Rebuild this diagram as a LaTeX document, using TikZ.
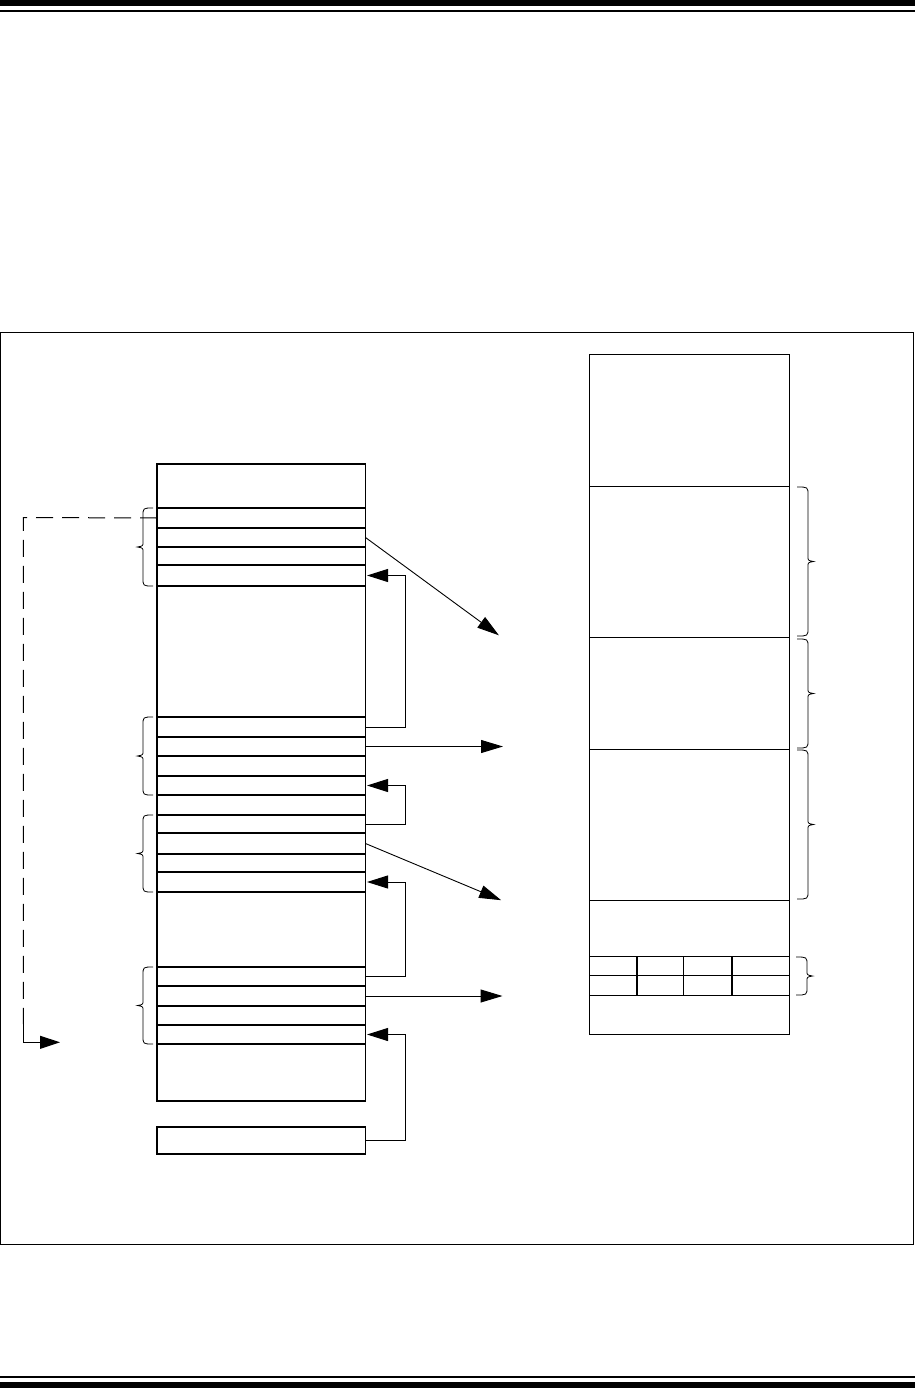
\documentclass[tikz,border=0pt]{standalone}
\usetikzlibrary{arrows.meta}
\tikzset{
  box/.style={draw, line width=1.1pt, inner sep=0pt, outer sep=0pt, anchor=north west, minimum width=208.5pt},
  rbox/.style={draw, line width=1.1pt, inner sep=0pt, outer sep=0pt, anchor=north west, minimum width=200.4pt},
  cellbox/.style={draw, line width=1.1pt, inner sep=0pt, outer sep=0pt, anchor=north west},
  conn/.style={line width=1pt, -{Triangle[length=22pt,width=13pt]}, shorten >=-0.5pt},
  loopconn/.style={line width=1pt, -{Triangle[length=21pt,width=13pt]}, shorten >=1.5pt},
  dashconn/.style={line width=1pt, dash pattern=on 17pt off 9pt},
  brc/.style={line width=0.8pt},
}
\newcommand\myBraceL[3]{%
  \draw[brc] (#1,#2) .. controls (#1-10,#2) .. (#1-10,#2+8) -- (#1-10,{(#2+#3)/2-5})
    .. controls (#1-10,{(#2+#3)/2-1}) .. (#1-15.5,{(#2+#3)/2})
    .. controls (#1-10,{(#2+#3)/2+1}) .. (#1-10,{(#2+#3)/2+5})
    -- (#1-10,#3-8) .. controls (#1-10,#3) .. (#1,#3);}
\newcommand\myBraceR[3]{%
  \draw[brc] (#1,#2) .. controls (#1+11,#2) .. (#1+11,#2+8) -- (#1+11,{(#2+#3)/2-5})
    .. controls (#1+11,{(#2+#3)/2-1}) .. (#1+16.5,{(#2+#3)/2})
    .. controls (#1+11,{(#2+#3)/2+1}) .. (#1+11,{(#2+#3)/2+5})
    -- (#1+11,#3-8) .. controls (#1+11,#3) .. (#1,#3);}
\begin{document}
\begin{tikzpicture}[x=1pt,y=-1pt]
\useasboundingbox (0,0) rectangle (915,1388);
% page rules
\fill (0,0) rectangle (915,6);
\fill (0,9.7) rectangle (915,12);
\fill (0,1375.7) rectangle (915,1377.8);
\fill (0,1382) rectangle (915,1388);
% frame
\draw[line width=1pt] (0.6,332.5) rectangle (913.4,1244.4);

% left stack
\node[box, minimum height=44pt]   (r1)  at (157,464) {};
\node[box, minimum height=20pt]   (r2)  at (157,508) {};
\node[box, minimum height=19pt]   (r3)  at (157,528) {};
\node[box, minimum height=18pt]   (r4)  at (157,547) {};
\node[box, minimum height=21pt]   (r5)  at (157,565) {};
\node[box, minimum height=131pt]  (r6)  at (157,586) {};
\node[box, minimum height=20pt]   (r7)  at (157,717) {};
\node[box, minimum height=19pt]   (r8)  at (157,737) {};
\node[box, minimum height=20pt]   (r9)  at (157,756) {};
\node[box, minimum height=19pt]   (r10) at (157,776) {};
\node[box, minimum height=20pt]   (r11) at (157,795) {};
\node[box, minimum height=18pt]   (r12) at (157,815) {};
\node[box, minimum height=21pt]   (r13) at (157,833) {};
\node[box, minimum height=18pt]   (r14) at (157,854) {};
\node[box, minimum height=20pt]   (r15) at (157,872) {};
\node[box, minimum height=75pt]   (r16) at (157,892) {};
\node[box, minimum height=19pt]   (r17) at (157,967) {};
\node[box, minimum height=20pt]   (r18) at (157,986) {};
\node[box, minimum height=19pt]   (r19) at (157,1006) {};
\node[box, minimum height=19pt]   (r20) at (157,1025) {};
\node[box, minimum height=57pt]   (r21) at (157,1044) {};
\node[box, minimum height=27pt]   (sb)  at (157,1127) {};

% right stack
\node[rbox, minimum height=132pt] (m1) at (589.3,354.3) {};
\node[rbox, minimum height=151pt] (m2) at (589.3,486.3) {};
\node[rbox, minimum height=112pt] (m3) at (589.3,637.3) {};
\node[rbox, minimum height=151pt] (m4) at (589.3,749.3) {};
\node[rbox, minimum height=56pt]  (m5) at (589.3,900.3) {};
\node[cellbox, minimum width=47.7pt, minimum height=19pt] (c11) at (589.3,956.3) {};
\node[cellbox, minimum width=46.3pt, minimum height=19pt] (c12) at (637,956.3) {};
\node[cellbox, minimum width=48.7pt, minimum height=19pt] (c13) at (683.3,956.3) {};
\node[cellbox, minimum width=57.7pt, minimum height=19pt] (c14) at (732,956.3) {};
\node[cellbox, minimum width=47.7pt, minimum height=20pt] (c21) at (589.3,975.3) {};
\node[cellbox, minimum width=46.3pt, minimum height=20pt] (c22) at (637,975.3) {};
\node[cellbox, minimum width=48.7pt, minimum height=20pt] (c23) at (683.3,975.3) {};
\node[cellbox, minimum width=57.7pt, minimum height=20pt] (c24) at (732,975.3) {};
\node[rbox, minimum height=39pt]  (m6) at (589.3,995.3) {};

% free ends of the outgoing arrows
\coordinate (t1) at (498.5,635);
\coordinate (t2) at (502.5,746.5);
\coordinate (t3) at (500.7,900);
\coordinate (t4) at (502,996);
\coordinate (d1) at (23.3,517.5);
\coordinate (d2) at (23.3,1042.3);
\coordinate (d3) at (23.3,1024);
\coordinate (t5) at (60,1042.3);

% connectors
\draw[conn, line width=0.9pt] (r3.east) -- (t1);
\draw[conn] (r8.east) -- (t2);
\draw[conn, line width=0.9pt] (r13.east) -- (t3);
\draw[conn] (r18.east) -- (t4);

\draw[loopconn] (r7.east) -- ++(39.5,0) |- (r5.east);
\draw[loopconn] (r12.east) -- ++(40.3,0) |- (r10.east);
\draw[loopconn] (r17.east) -- ++(40.3,0) |- (r15.east);
\draw[loopconn] (sb.east) -- ++(40.3,0) |- (r20.east);

\draw[dashconn] (r2.west) -- (d1) -- (d3);
\draw[line width=1pt, -{Triangle[length=20pt,width=13pt]}] (d3) -- (d2) -- (t5);

% braces
\myBraceL{153}{508}{586}
\myBraceL{153}{717}{795}
\myBraceL{153}{815}{892}
\myBraceL{153}{967}{1044}
\myBraceR{797}{487}{636}
\myBraceR{797}{639}{748}
\myBraceR{797}{750}{899}
\myBraceR{796}{957}{995}
\end{tikzpicture}
\end{document}
